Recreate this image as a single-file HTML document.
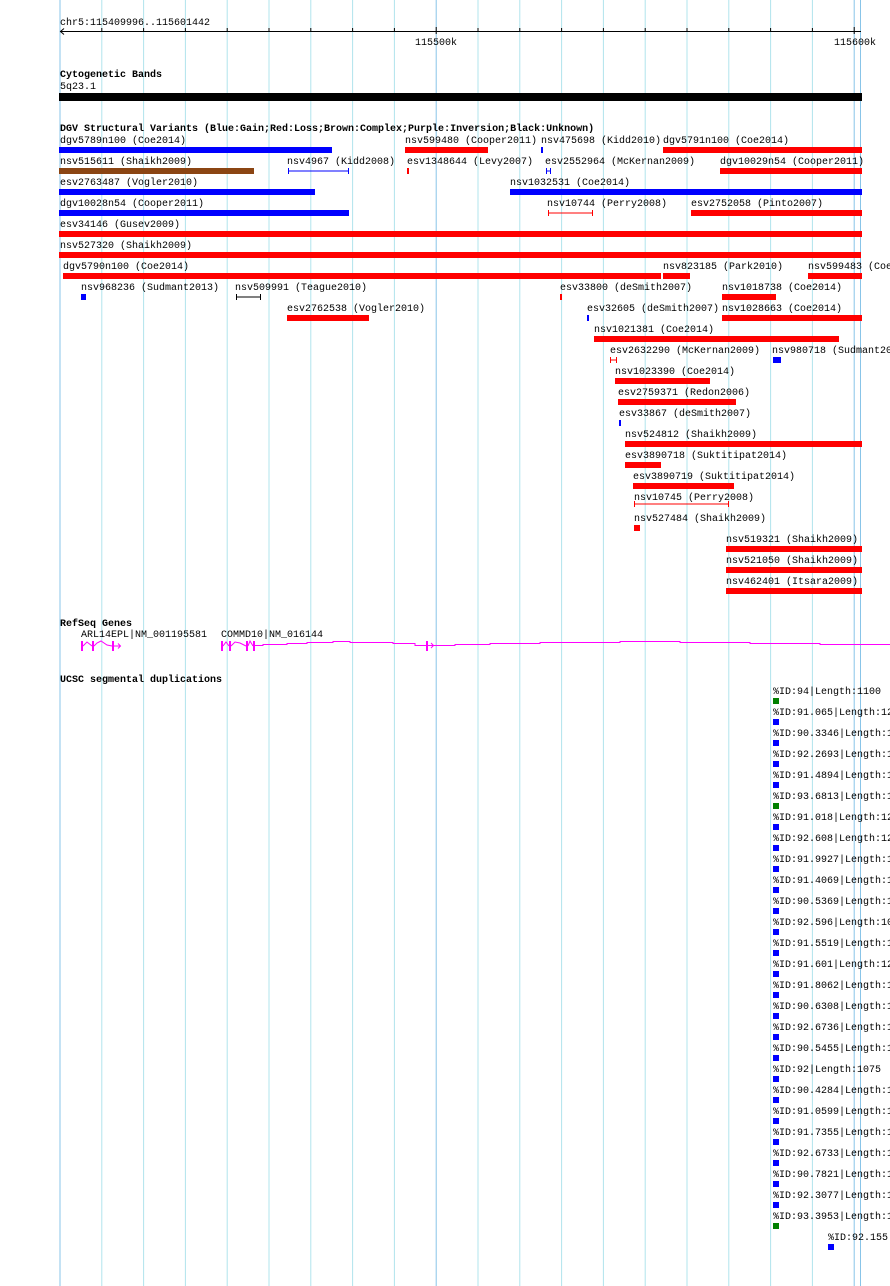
<!DOCTYPE html>
<html><head><meta charset="utf-8"><style>
html,body{margin:0;padding:0;background:#fff;width:890px;height:1286px;overflow:hidden}
svg{display:block}
text{font-family:"Liberation Mono",monospace;font-size:10px;fill:#000}
.h{font-weight:bold}
.b{fill:#0000ff}.r{fill:#ff0000}.n{fill:#8b4513}.g{fill:#008000}.k{fill:#000}
</style></head><body>
<svg width="890" height="1286" xmlns="http://www.w3.org/2000/svg">
<g stroke="#b0e4ec" stroke-width="1">
<line x1="101.8" y1="0" x2="101.8" y2="1286"/><line x1="143.6" y1="0" x2="143.6" y2="1286"/>
<line x1="185.4" y1="0" x2="185.4" y2="1286"/><line x1="227.2" y1="0" x2="227.2" y2="1286"/>
<line x1="269" y1="0" x2="269" y2="1286"/><line x1="310.8" y1="0" x2="310.8" y2="1286"/>
<line x1="352.6" y1="0" x2="352.6" y2="1286"/><line x1="394.4" y1="0" x2="394.4" y2="1286"/>
<line x1="478" y1="0" x2="478" y2="1286"/><line x1="519.8" y1="0" x2="519.8" y2="1286"/>
<line x1="561.6" y1="0" x2="561.6" y2="1286"/><line x1="603.4" y1="0" x2="603.4" y2="1286"/>
<line x1="645.2" y1="0" x2="645.2" y2="1286"/><line x1="687" y1="0" x2="687" y2="1286"/>
<line x1="728.8" y1="0" x2="728.8" y2="1286"/><line x1="770.6" y1="0" x2="770.6" y2="1286"/>
<line x1="812.4" y1="0" x2="812.4" y2="1286"/>
</g>
<g stroke="#88c4e8" stroke-width="1">
<line x1="60" y1="0" x2="60" y2="1286"/><line x1="436.2" y1="0" x2="436.2" y2="1286"/><line x1="854.2" y1="0" x2="854.2" y2="1286"/><line x1="860.5" y1="0" x2="860.5" y2="1286"/>
</g>
<!-- ruler -->
<text x="60" y="25">chr5:115409996..115601442</text>
<line x1="60" y1="31.5" x2="861" y2="31.5" stroke="#000"/>
<path d="M64 28.5 L60.5 31.5 L64 34.5" fill="none" stroke="#000"/>
<g stroke="#000">
<line x1="101.8" y1="28" x2="101.8" y2="32"/><line x1="143.6" y1="28" x2="143.6" y2="32"/><line x1="185.4" y1="28" x2="185.4" y2="32"/><line x1="227.2" y1="28" x2="227.2" y2="32"/><line x1="269" y1="28" x2="269" y2="32"/><line x1="310.8" y1="28" x2="310.8" y2="32"/><line x1="352.6" y1="28" x2="352.6" y2="32"/><line x1="394.4" y1="28" x2="394.4" y2="32"/><line x1="436.2" y1="27" x2="436.2" y2="34"/><line x1="478" y1="28" x2="478" y2="32"/><line x1="519.8" y1="28" x2="519.8" y2="32"/><line x1="561.6" y1="28" x2="561.6" y2="32"/><line x1="603.4" y1="28" x2="603.4" y2="32"/><line x1="645.2" y1="28" x2="645.2" y2="32"/><line x1="687" y1="28" x2="687" y2="32"/><line x1="728.8" y1="28" x2="728.8" y2="32"/><line x1="770.6" y1="28" x2="770.6" y2="32"/><line x1="812.4" y1="28" x2="812.4" y2="32"/><line x1="854.2" y1="27" x2="854.2" y2="34"/>
</g>
<text x="415" y="45">115500k</text>
<text x="834" y="45">115600k</text>
<!-- cyto -->
<text class="h" x="60" y="77">Cytogenetic Bands</text>
<text x="60" y="89">5q23.1</text>
<rect class="k" x="59" y="93" width="803" height="8"/>
<!-- DGV -->
<text class="h" x="60" y="131">DGV Structural Variants (Blue:Gain;Red:Loss;Brown:Complex;Purple:Inversion;Black:Unknown)</text>
<text x="60" y="143">dgv5789n100 (Coe2014)</text><rect class="b" x="59" y="147" width="273" height="6"/>
<text x="405" y="143">nsv599480 (Cooper2011)</text><rect class="r" x="405" y="147" width="83" height="6"/>
<text x="541" y="143">nsv475698 (Kidd2010)</text><rect class="b" x="541" y="147" width="2" height="6"/>
<text x="663" y="143">dgv5791n100 (Coe2014)</text><rect class="r" x="663" y="147" width="199" height="6"/>

<text x="60" y="164">nsv515611 (Shaikh2009)</text><rect class="n" x="59" y="168" width="195" height="6"/>
<text x="287" y="164">nsv4967 (Kidd2008)</text><g stroke="#00f"><line x1="288" y1="171" x2="349" y2="171"/><line x1="288.5" y1="168" x2="288.5" y2="174"/><line x1="348.5" y1="168" x2="348.5" y2="174"/></g>
<text x="407" y="164">esv1348644 (Levy2007)</text><rect class="r" x="407" y="168" width="2" height="6"/>
<text x="545" y="164">esv2552964 (McKernan2009)</text><g stroke="#00f"><line x1="546" y1="171" x2="551" y2="171"/><line x1="546.5" y1="168" x2="546.5" y2="174"/><line x1="550.5" y1="168" x2="550.5" y2="174"/></g>
<text x="720" y="164">dgv10029n54 (Cooper2011)</text><rect class="r" x="720" y="168" width="142" height="6"/>

<text x="60" y="185">esv2763487 (Vogler2010)</text><rect class="b" x="59" y="189" width="256" height="6"/>
<text x="510" y="185">nsv1032531 (Coe2014)</text><rect class="b" x="510" y="189" width="352" height="6"/>

<text x="60" y="206">dgv10028n54 (Cooper2011)</text><rect class="b" x="59" y="210" width="290" height="6"/>
<text x="547" y="206">nsv10744 (Perry2008)</text><g stroke="#f00"><line x1="548" y1="213" x2="593" y2="213"/><line x1="548.5" y1="210" x2="548.5" y2="216"/><line x1="592.5" y1="210" x2="592.5" y2="216"/></g>
<text x="691" y="206">esv2752058 (Pinto2007)</text><rect class="r" x="691" y="210" width="171" height="6"/>

<text x="60" y="227">esv34146 (Gusev2009)</text><rect class="r" x="59" y="231" width="803" height="6"/>
<text x="60" y="248">nsv527320 (Shaikh2009)</text><rect class="r" x="59" y="252" width="802" height="6"/>

<text x="63" y="269">dgv5790n100 (Coe2014)</text><rect class="r" x="63" y="273" width="598" height="6"/>
<text x="663" y="269">nsv823185 (Park2010)</text><rect class="r" x="663" y="273" width="27" height="6"/>
<text x="808" y="269">nsv599483 (Coe2014)</text><rect class="r" x="808" y="273" width="54" height="6"/>

<text x="81" y="290">nsv968236 (Sudmant2013)</text><rect class="b" x="81" y="294" width="5" height="6"/>
<text x="235" y="290">nsv509991 (Teague2010)</text><g stroke="#000"><line x1="236" y1="297" x2="261" y2="297"/><line x1="236.5" y1="294" x2="236.5" y2="300"/><line x1="260.5" y1="294" x2="260.5" y2="300"/></g>
<text x="560" y="290">esv33800 (deSmith2007)</text><rect class="r" x="560" y="294" width="2" height="6"/>
<text x="722" y="290">nsv1018738 (Coe2014)</text><rect class="r" x="722" y="294" width="54" height="6"/>

<text x="287" y="311">esv2762538 (Vogler2010)</text><rect class="r" x="287" y="315" width="82" height="6"/>
<text x="587" y="311">esv32605 (deSmith2007)</text><rect class="b" x="587" y="315" width="2" height="6"/>
<text x="722" y="311">nsv1028663 (Coe2014)</text><rect class="r" x="722" y="315" width="140" height="6"/>

<text x="594" y="332">nsv1021381 (Coe2014)</text><rect class="r" x="594" y="336" width="245" height="6"/>

<text x="610" y="353">esv2632290 (McKernan2009)</text><g stroke="#f00"><line x1="610" y1="360" x2="617" y2="360"/><line x1="610.5" y1="357" x2="610.5" y2="363"/><line x1="616.5" y1="357" x2="616.5" y2="363"/></g>
<text x="772" y="353">nsv980718 (Sudmant2013)</text><rect class="b" x="773" y="357" width="8" height="6"/>

<text x="615" y="374">nsv1023390 (Coe2014)</text><rect class="r" x="615" y="378" width="95" height="6"/>
<text x="618" y="395">esv2759371 (Redon2006)</text><rect class="r" x="618" y="399" width="118" height="6"/>
<text x="619" y="416">esv33867 (deSmith2007)</text><rect class="b" x="619" y="420" width="2" height="6"/>
<text x="625" y="437">nsv524812 (Shaikh2009)</text><rect class="r" x="625" y="441" width="237" height="6"/>
<text x="625" y="458">esv3890718 (Suktitipat2014)</text><rect class="r" x="625" y="462" width="36" height="6"/>
<text x="633" y="479">esv3890719 (Suktitipat2014)</text><rect class="r" x="633" y="483" width="101" height="6"/>
<text x="634" y="500">nsv10745 (Perry2008)</text><g stroke="#f00"><line x1="634" y1="504" x2="729" y2="504"/><line x1="634.5" y1="501" x2="634.5" y2="507"/><line x1="728.5" y1="501" x2="728.5" y2="507"/></g>
<text x="634" y="521">nsv527484 (Shaikh2009)</text><rect class="r" x="634" y="525" width="6" height="6"/>
<text x="726" y="542">nsv519321 (Shaikh2009)</text><rect class="r" x="726" y="546" width="136" height="6"/>
<text x="726" y="563">nsv521050 (Shaikh2009)</text><rect class="r" x="726" y="567" width="136" height="6"/>
<text x="726" y="584">nsv462401 (Itsara2009)</text><rect class="r" x="726" y="588" width="136" height="6"/>

<!-- RefSeq -->
<text class="h" x="60" y="626">RefSeq Genes</text>
<text x="81" y="637">ARL14EPL|NM_001195581</text>
<text x="221" y="637">COMMD10|NM_016144</text>
<g stroke="#ff00ff" fill="none" stroke-width="1">
<rect x="81" y="641" width="2" height="10" fill="#f0f" stroke="none"/>
<rect x="92" y="641" width="2" height="10" fill="#f0f" stroke="none"/>
<rect x="112" y="641" width="2" height="10" fill="#f0f" stroke="none"/>
<path d="M83 646 L87 642 L92 646 M94 646 L97 643 L101 641 L107 645 L112 646 M114 646 L120 646 M118 643.5 L120.5 646 L118 648.5"/>
<rect x="221" y="641" width="2" height="10" fill="#f0f" stroke="none"/>
<rect x="229" y="641" width="2" height="10" fill="#f0f" stroke="none"/>
<rect x="246" y="641" width="2" height="10" fill="#f0f" stroke="none"/>
<rect x="253" y="641" width="2" height="10" fill="#f0f" stroke="none"/>
<path d="M223 646 L226 642 L229 646 M231 646 L235 642 L240 643 L246 646 M248 646 L250 641 L253 646"/>
<path d="M255 645.5 L263 645.5 L263 644.5 L287 644.5 L287 643.5 L307 643.5 L307 642.5 L333 642.5 L333 641.5 L350 641.5 L350 642.5 L393 642.5 L393 643.5 L415 643.5 L415 645.5 L427 645.5"/>
<rect x="426" y="641" width="2" height="10" fill="#f0f" stroke="none"/>
<path d="M428 645.5 L434 645.5 M431 643 L433.5 645.5 L431 648 M434 645.5 L455 645.5 L455 644.5 L490 644.5 L490 643.5 L540 643.5 L540 642.5 L620 642.5 L620 641.5 L680 641.5 L680 642.5 L750 642.5 L750 643.5 L820 643.5 L820 644.5 L890 644.5"/>
</g>

<!-- segdups -->
<text class="h" x="60" y="682">UCSC segmental duplications</text>
<text x="773" y="694">%ID:94|Length:1100</text><rect class="g" x="773" y="698" width="6" height="6"/>
<text x="773" y="715">%ID:91.065|Length:1200</text><rect class="b" x="773" y="719" width="6" height="6"/>
<text x="773" y="736">%ID:90.3346|Length:1000</text><rect class="b" x="773" y="740" width="6" height="6"/>
<text x="773" y="757">%ID:92.2693|Length:1000</text><rect class="b" x="773" y="761" width="6" height="6"/>
<text x="773" y="778">%ID:91.4894|Length:1000</text><rect class="b" x="773" y="782" width="6" height="6"/>
<text x="773" y="799">%ID:93.6813|Length:1000</text><rect class="g" x="773" y="803" width="6" height="6"/>
<text x="773" y="820">%ID:91.018|Length:1200</text><rect class="b" x="773" y="824" width="6" height="6"/>
<text x="773" y="841">%ID:92.608|Length:1200</text><rect class="b" x="773" y="845" width="6" height="6"/>
<text x="773" y="862">%ID:91.9927|Length:1000</text><rect class="b" x="773" y="866" width="6" height="6"/>
<text x="773" y="883">%ID:91.4069|Length:1000</text><rect class="b" x="773" y="887" width="6" height="6"/>
<text x="773" y="904">%ID:90.5369|Length:1000</text><rect class="b" x="773" y="908" width="6" height="6"/>
<text x="773" y="925">%ID:92.596|Length:1000</text><rect class="b" x="773" y="929" width="6" height="6"/>
<text x="773" y="946">%ID:91.5519|Length:1000</text><rect class="b" x="773" y="950" width="6" height="6"/>
<text x="773" y="967">%ID:91.601|Length:1200</text><rect class="b" x="773" y="971" width="6" height="6"/>
<text x="773" y="988">%ID:91.8062|Length:1000</text><rect class="b" x="773" y="992" width="6" height="6"/>
<text x="773" y="1009">%ID:90.6308|Length:1000</text><rect class="b" x="773" y="1013" width="6" height="6"/>
<text x="773" y="1030">%ID:92.6736|Length:1000</text><rect class="b" x="773" y="1034" width="6" height="6"/>
<text x="773" y="1051">%ID:90.5455|Length:1000</text><rect class="b" x="773" y="1055" width="6" height="6"/>
<text x="773" y="1072">%ID:92|Length:1075</text><rect class="b" x="773" y="1076" width="6" height="6"/>
<text x="773" y="1093">%ID:90.4284|Length:1000</text><rect class="b" x="773" y="1097" width="6" height="6"/>
<text x="773" y="1114">%ID:91.0599|Length:1000</text><rect class="b" x="773" y="1118" width="6" height="6"/>
<text x="773" y="1135">%ID:91.7355|Length:1000</text><rect class="b" x="773" y="1139" width="6" height="6"/>
<text x="773" y="1156">%ID:92.6733|Length:1000</text><rect class="b" x="773" y="1160" width="6" height="6"/>
<text x="773" y="1177">%ID:90.7821|Length:1000</text><rect class="b" x="773" y="1181" width="6" height="6"/>
<text x="773" y="1198">%ID:92.3077|Length:1000</text><rect class="b" x="773" y="1202" width="6" height="6"/>
<text x="773" y="1219">%ID:93.3953|Length:1000</text><rect class="g" x="773" y="1223" width="6" height="6"/>
<text x="828" y="1240">%ID:92.155</text><rect class="b" x="828" y="1244" width="6" height="6"/>
</svg>
</body></html>
